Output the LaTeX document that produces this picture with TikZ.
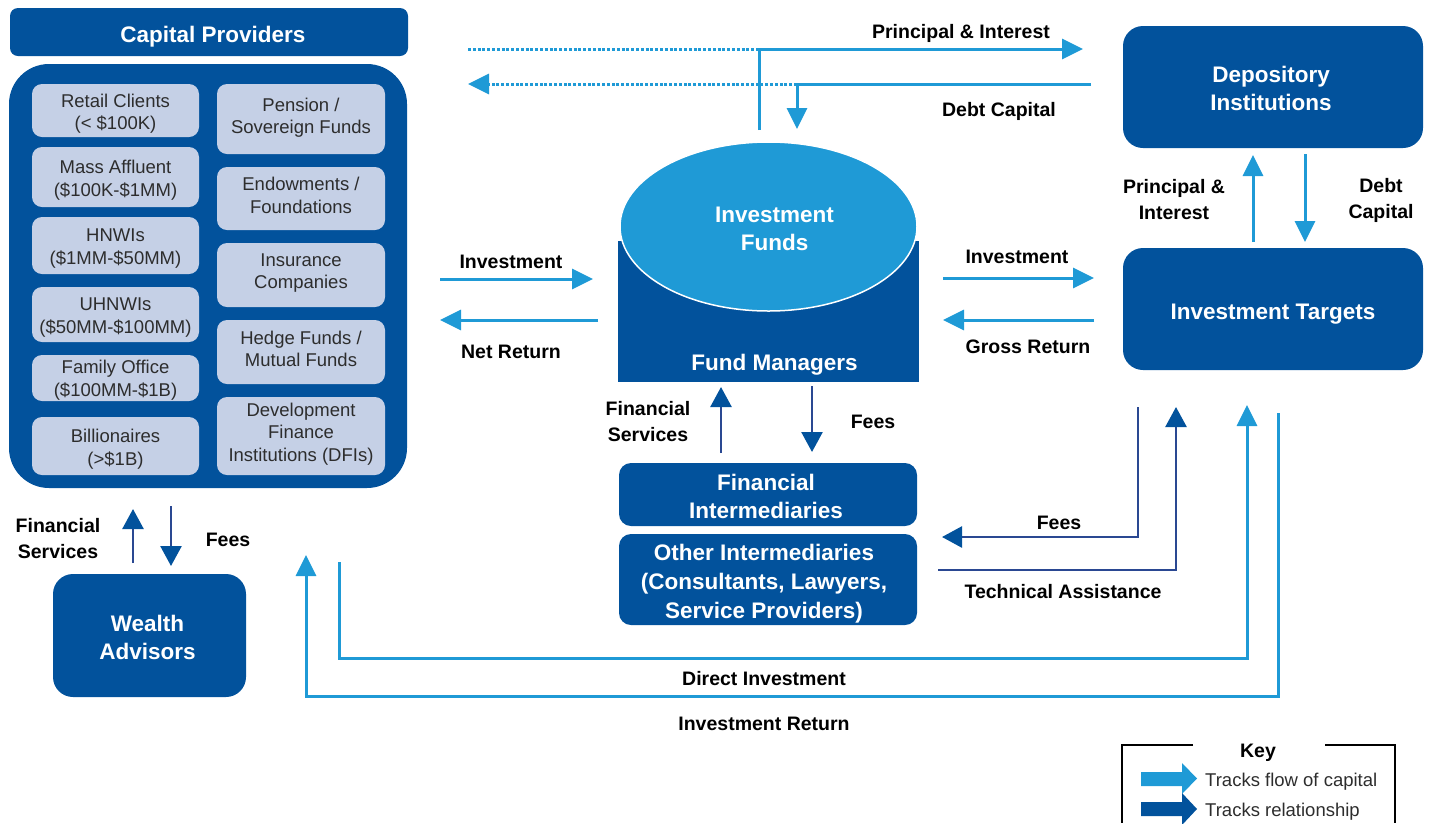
\documentclass[tikz,border=0pt]{standalone}
\usepackage{fontspec}
\setmainfont{Liberation Sans}
\usetikzlibrary{arrows.meta,shapes.geometric}
\definecolor{dblue}{RGB}{2,82,156}
\definecolor{lblue}{RGB}{31,154,214}
\definecolor{navy}{RGB}{42,72,146}
\definecolor{pale}{RGB}{197,208,230}
\definecolor{txtgray}{RGB}{45,45,45}
\begin{document}
\begin{tikzpicture}[x=1pt,y=-1pt,
  darkbox/.style={fill=dblue, inner sep=0pt, outer sep=0pt, rounded corners=#1},
  darkbox/.default=20pt,
  palebox/.style={fill=pale, inner sep=0pt, outer sep=0pt, rounded corners=10pt},
  whitetext/.style={text=white, font=\fontsize{22.5}{28}\selectfont\bfseries, align=center, inner sep=0pt},
  paletext/.style={text=txtgray, font=\fontsize{18.5}{22.5}\selectfont, align=center, inner sep=0pt},
  lab/.style={text=black, font=\fontsize{19.5}{26}\selectfont\bfseries, align=center, inner sep=0pt},
  capline/.style={draw=lblue, line width=3pt},
  capdots/.style={capline, dash pattern=on 3pt off 1.8pt},
  captip/.style={-{Triangle[length=21pt,width=20pt]}},
  relline/.style={draw=navy, line width=2.5pt, -{Triangle[length=20pt,width=21pt,color=dblue]}}
]
\useasboundingbox (0,0) rectangle (1432,823);

% ---------- Capital providers ----------
\node[darkbox=8pt, minimum width=398pt, minimum height=48pt,
      label={[whitetext, name=cpT, xshift=4pt, yshift=-5pt]center:Capital Providers}] (cp) at (209,32) {};
\node[darkbox=40pt, minimum width=398pt, minimum height=424pt] (cont) at (208,276) {};

\node[palebox, minimum width=167pt, minimum height=53pt,
      label={[paletext, name=retailT, yshift=-3pt]center:{Retail Clients\\(< \$100K)}}] (retail) at (115.5,110.5) {};
\node[palebox, minimum width=167pt, minimum height=60pt,
      label={[paletext, name=massT, yshift=-3pt]center:{Mass Affluent\\(\$100K-\$1MM)}}] (mass) at (115.5,177) {};
\node[palebox, minimum width=167pt, minimum height=57pt,
      label={[paletext, name=hnwiT, yshift=-3pt]center:{HNWIs\\(\$1MM-\$50MM)}}] (hnwi) at (115.5,245.5) {};
\node[palebox, minimum width=167pt, minimum height=55pt,
      label={[paletext, name=uhnwiT, yshift=-3pt]center:{UHNWIs\\(\$50MM-\$100MM)}}] (uhnwi) at (115.5,314.5) {};
\node[palebox, minimum width=167pt, minimum height=46pt,
      label={[paletext, name=familyT, yshift=-2pt]center:{Family Office\\(\$100MM-\$1B)}}] (family) at (115.5,378) {};
\node[palebox, minimum width=167pt, minimum height=58pt,
      label={[paletext, name=billT, yshift=-3pt]center:{Billionaires\\(>\$1B)}}] (bill) at (115.5,446) {};

\node[palebox, minimum width=168pt, minimum height=70pt,
      label={[paletext, name=pensionT, yshift=1.5pt]center:{Pension /\\Sovereign Funds}}] (pension) at (301,119) {};
\node[palebox, minimum width=168pt, minimum height=63pt,
      label={[paletext, name=endowT, yshift=3pt]center:{Endowments /\\Foundations}}] (endow) at (301,198.5) {};
\node[palebox, minimum width=168pt, minimum height=64pt,
      label={[paletext, name=insurT, yshift=2pt]center:{Insurance\\Companies}}] (insur) at (301,275) {};
\node[palebox, minimum width=168pt, minimum height=64pt,
      label={[paletext, name=hedgeT, yshift=3pt]center:{Hedge Funds /\\Mutual Funds}}] (hedge) at (301,352) {};
\node[palebox, minimum width=168pt, minimum height=78pt,
      label={[paletext, name=dfiT, yshift=2pt]center:{Development\\Finance\\Institutions (DFIs)}}] (dfi) at (301,436) {};

% ---------- Right boxes ----------
\node[darkbox, minimum width=300pt, minimum height=122pt,
      label={[whitetext, name=depT, xshift=-2pt, yshift=-1pt]center:{Depository\\Institutions}}] (dep) at (1273,87) {};
\node[darkbox, minimum width=300pt, minimum height=122pt,
      label={[whitetext, name=tgtT, yshift=-5pt]center:Investment Targets}] (tgt) at (1273,309) {};

% ---------- Investment funds cylinder ----------
\node[fill=dblue, minimum width=301pt, minimum height=141pt, inner sep=0pt, outer sep=0pt,
      label={[whitetext, name=fmT, xshift=6pt, yshift=-53pt]center:Fund Managers}] (fm) at (768.5,311.5) {};
\node[ellipse, fill=lblue, draw=white, line width=1.5pt, minimum width=297pt, minimum height=169pt, inner sep=0pt, outer sep=0pt,
      label={[whitetext, name=ifundT, xshift=6pt, yshift=-2pt]center:{Investment\\Funds}}] (ifund) at (768.5,226.5) {};

% ---------- Intermediaries ----------
\node[darkbox=12pt, minimum width=298pt, minimum height=63pt,
      label={[whitetext, name=fiT, xshift=-2pt, yshift=-2pt]center:{Financial\\Intermediaries}}] (fi) at (768,494.5) {};
\node[darkbox=12pt, minimum width=298pt, minimum height=91pt,
      label={[whitetext, font=\fontsize{22.5}{29}\selectfont\bfseries, name=oiT, xshift=-4pt, yshift=-4pt]center:{Other Intermediaries\\(Consultants, Lawyers,\\Service Providers)}}] (oi) at (768,579.5) {};

% ---------- Wealth advisors ----------
\node[darkbox, minimum width=193pt, minimum height=123pt,
      label={[whitetext, name=waT, xshift=-2pt, yshift=-2pt]center:{Wealth\\Advisors}}] (wa) at (149.5,635.5) {};

% ---------- Coordinates ----------
\coordinate (piS) at (759,130);
\coordinate (piJ) at (759,49);
\coordinate (piE) at (1083,49);
\coordinate (piL) at (468,49);
\coordinate (dcS) at (1091,84);
\coordinate (dcJ) at (797,84);
\coordinate (dcE) at (797,129);
\coordinate (dcL) at (468,84);

\coordinate (invLa) at (440,279);
\coordinate (invLb) at (593,279);
\coordinate (netA) at (598,320);
\coordinate (netB) at (440,320);
\coordinate (invRa) at (943,278);
\coordinate (invRb) at (1094,278);
\coordinate (grA) at (1094,320);
\coordinate (grB) at (943,320);

\coordinate (dtUpA) at (1253,242);
\coordinate (dtUpB) at (1253,155);
\coordinate (dtDnA) at (1305,154);
\coordinate (dtDnB) at (1305,242);

\coordinate (fsA) at (721,453);
\coordinate (fsB) at (721,387);
\coordinate (feA) at (812,386);
\coordinate (feB) at (812,452);

\coordinate (rfA) at (1138,407);
\coordinate (rfJ) at (1138,537);
\coordinate (rfB) at (942,537);
\coordinate (taA) at (938,570);
\coordinate (taJ) at (1176,570);
\coordinate (taB) at (1176,407);

\coordinate (diA) at (339,562);
\coordinate (diJ1) at (339,658);
\coordinate (diJ2) at (1247,658);
\coordinate (diB) at (1247,405);
\coordinate (irA) at (1278,413);
\coordinate (irJ1) at (1278,696);
\coordinate (irJ2) at (306,696);
\coordinate (irB) at (306,555);

\coordinate (wfsA) at (133,563);
\coordinate (wfsB) at (133,509);
\coordinate (wfeA) at (171,506);
\coordinate (wfeB) at (171,566);

% ---------- Connectors ----------
\draw[capdots] (piL) -- (piJ);
\draw[capline, captip] (piS) -- (piJ) -- (piE);
\draw[capline, captip] (dcS) -- (dcJ) -- (dcE);
\draw[capdots, captip] (dcJ) -- (dcL);

\draw[capline, captip] (invLa) -- (invLb);
\draw[capline, captip] (netA) -- (netB);
\draw[capline, captip] (invRa) -- (invRb);
\draw[capline, captip] (grA) -- (grB);

\draw[capline, captip] (dtUpA) -- (dtUpB);
\draw[capline, captip] (dtDnA) -- (dtDnB);

\draw[relline] (fsA) -- (fsB);
\draw[relline] (feA) -- (feB);
\draw[relline] (rfA) -- (rfJ) -- (rfB);
\draw[relline] (taA) -- (taJ) -- (taB);

\draw[capline, captip] (diA) -- (diJ1) -- (diJ2) -- (diB);
\draw[capline, captip] (irA) -- (irJ1) -- (irJ2) -- (irB);

\draw[relline] (wfsA) -- (wfsB);
\draw[relline] (wfeA) -- (wfeB);

% ---------- Labels ----------
\node[lab] (lpi) at (961,33.5) {Principal \& Interest};
\node[lab] (ldc) at (999,111.5) {Debt Capital};
\node[lab] (lpi2) at (1174,200) {Principal \&\\Interest};
\node[lab] (ldc2) at (1381,200) {Debt\\Capital};
\node[lab] (linvL) at (511,261.5) {Investment};
\node[lab] (lnet) at (511,352) {Net Return};
\node[lab] (linvR) at (1017,257) {Investment};
\node[lab] (lgr) at (1028,347) {Gross Return};
\node[lab] (lfs) at (648,422) {Financial\\Services};
\node[lab] (lfe) at (873,422) {Fees};
\node[lab] (lfe2) at (1059,523) {Fees};
\node[lab] (lta) at (1063,592) {Technical Assistance};
\node[lab] (ldi) at (764,679) {Direct Investment};
\node[lab] (lir) at (764,724) {Investment Return};
\node[lab] (lwfs) at (58,539) {Financial\\Services};
\node[lab] (lwfe) at (228,540) {Fees};

% ---------- Key ----------
\draw[black, line width=2pt] (1193,745) -- (1122,745) -- (1122,823);
\draw[black, line width=2pt] (1325,745) -- (1395,745) -- (1395,823);
\node[lab] (keytitle) at (1258,753) {Key};
\fill[lblue] (1141,772) -- (1182,772) -- (1182,763) -- (1197,778.5) -- (1182,794) -- (1182,786) -- (1141,786) -- cycle;
\fill[dblue] (1141,802) -- (1182,802) -- (1182,793) -- (1197,809) -- (1182,825) -- (1182,816) -- (1141,816) -- cycle;
\node[anchor=west, inner sep=0pt, text=txtgray, font=\fontsize{18.5}{22}\selectfont] (k1) at (1205,782) {Tracks flow of capital};
\node[anchor=west, inner sep=0pt, text=txtgray, font=\fontsize{18.5}{22}\selectfont] (k2) at (1205,812) {Tracks relationship};
\end{tikzpicture}
\end{document}
